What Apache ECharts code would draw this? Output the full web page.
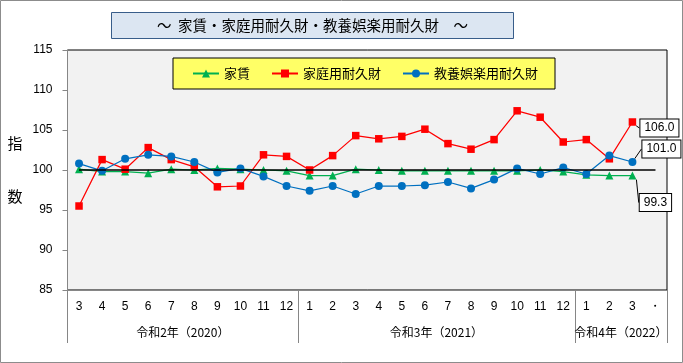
<!DOCTYPE html>
<html>
<head>
<meta charset="utf-8">
<script src="https://cdn.jsdelivr.net/npm/echarts@6/dist/echarts.min.js"></script>
<style>
html,body{margin:0;padding:0;background:#fff;}
#chart{width:683px;height:363px;}
</style>
</head>
<body>
<div id="chart"></div>
<script>
// ---- data ----
const categories = ['3','4','5','6','7','8','9','10','11','12','1','2','3','4','5','6','7','8','9','10','11','12','1','2','3','・'];
const yearLabels = ['令和2年（2020）','令和3年（2021）','令和4年（2022）'];
const yearCounts = [10, 12, 4];
const seriesNames = ['家賃','家庭用耐久財','教養娯楽用耐久財'];
const rent = [100.1, 99.8, 99.8, 99.6, 100.1, 100.0, 100.2, 100.1, 100.0, 99.9, 99.3, 99.3, 100.1, 100.0, 99.9, 99.9, 99.9, 99.9, 99.9, 99.9, 100.0, 99.8, 99.4, 99.3, 99.3];
const household = [95.5, 101.3, 100.1, 102.8, 101.3, 100.4, 97.9, 98.0, 101.9, 101.7, 100.0, 101.8, 104.3, 103.9, 104.2, 105.1, 103.3, 102.6, 103.8, 107.4, 106.6, 103.5, 103.8, 101.4, 106.0];
const culture = [100.8, 99.9, 101.4, 101.9, 101.7, 101.0, 99.7, 100.2, 99.2, 98.0, 97.4, 98.0, 97.0, 98.0, 98.0, 98.1, 98.5, 97.7, 98.8, 100.2, 99.5, 100.3, 99.5, 101.8, 101.0];
const yTicks = [85, 90, 95, 100, 105, 110, 115];
const baseValue = 100;

// ---- derived ----
const boundaries = [0];
yearCounts.forEach(c => boundaries.push(boundaries[boundaries.length - 1] + c));
const yearCenters = yearCounts.map((c, i) => boundaries[i] + c / 2);

const CJK = '"Noto Sans CJK JP", sans-serif';
const NUM = '"Liberation Sans", Arial, sans-serif';

function withLastLabel(arr) {
  return arr.map((v, i) => i === arr.length - 1 ? { value: v, label: { show: true } } : v);
}
const lastLabel = {
  show: false,
  position: 'inside',
  formatter: p => p.value.toFixed(1),
  fontFamily: NUM, fontSize: 12, color: '#000',
  backgroundColor: '#fff', borderColor: '#000', borderWidth: 1,
  padding: [3, 4, 2, 4]
};
const guide = { show: true, lineStyle: { color: '#000', width: 1 } };

const chart = echarts.init(document.getElementById('chart'), null, { renderer: 'canvas' });
chart.setOption({
  animation: false,
  backgroundColor: '#fff',
  title: {
    text: '～  家賃・家庭用耐久財・教養娯楽用耐久財　～',
    left: 111, top: 12,
    padding: [6, 46, 6, 46],
    backgroundColor: '#DCE6F2',
    borderColor: '#385D8A', borderWidth: 1,
    textStyle: { fontFamily: CJK, fontSize: 14.5, fontWeight: 'normal', color: '#000' }
  },
  legend: {
    left: 173, top: 58,
    padding: [9, 17, 9, 19],
    itemGap: 21, itemWidth: 26, itemHeight: 10,
    backgroundColor: '#FFFF66', borderColor: '#000', borderWidth: 1,
    textStyle: { fontFamily: CJK, fontSize: 13, color: '#000' },
    data: seriesNames
  },
  graphic: [{
    type: 'rect', silent: true, z: 100,
    shape: { x: 0.5, y: 0.5, width: 682, height: 362 },
    style: { fill: 'none', stroke: '#8c8c8c', lineWidth: 1 }
  }],
  grid: {
    left: 67.5, right: 16, top: 50, bottom: 73,
    show: true, backgroundColor: '#F2F2F2', borderColor: '#000', borderWidth: 1
  },
  xAxis: [{
    type: 'category', data: categories, boundaryGap: true,
    axisLine: { lineStyle: { color: '#868686', width: 1 } },
    axisTick: { interval: 0, length: 27, lineStyle: { color: '#868686' } },
    axisLabel: { interval: 0, margin: 11, fontFamily: NUM, fontSize: 12, color: '#000' }
  }, {
    type: 'value', min: 0, max: categories.length, position: 'bottom',
    axisLine: { show: false },
    splitLine: { show: false },
    axisTick: { show: true, customValues: boundaries, length: 53, lineStyle: { color: '#868686' } },
    axisLabel: {
      customValues: yearCenters, margin: 36,
      fontFamily: CJK, fontSize: 12, color: '#000',
      formatter: v => { const i = yearCenters.indexOf(v); return i >= 0 ? yearLabels[i] : ''; }
    }
  }],
  yAxis: {
    type: 'value', min: yTicks[0], max: yTicks[yTicks.length - 1], interval: 5,
    name: '指\n\n数', nameLocation: 'middle', nameRotate: 0, nameGap: 45,
    nameTextStyle: { fontFamily: CJK, fontSize: 15, lineHeight: 26.5, color: '#000', align: 'right' },
    axisLine: { show: true, lineStyle: { color: '#868686', width: 1 } },
    axisTick: { show: true, length: 5, lineStyle: { color: '#868686' } },
    splitLine: { show: false },
    axisLabel: { margin: 15, fontFamily: NUM, fontSize: 12, color: '#000' }
  },
  series: [{
    name: seriesNames[0], type: 'line', data: withLastLabel(rent),
    symbol: 'triangle', symbolSize: 8,
    itemStyle: { color: '#00B050' }, lineStyle: { color: '#00B050', width: 1.25 },
    label: lastLabel, labelLine: guide, labelLayout: { dx: 23, dy: 27 },
    markLine: {
      silent: true, symbol: 'none', label: { show: false },
      lineStyle: { color: '#000', width: 1.5, type: 'solid' },
      data: [[{ coord: [0, baseValue] }, { coord: [categories.length - 1, baseValue] }]]
    },
    z: 2
  }, {
    name: seriesNames[1], type: 'line', data: withLastLabel(household),
    symbol: 'rect', symbolSize: 7.5,
    itemStyle: { color: '#FF0000' }, lineStyle: { color: '#FF0000', width: 1.25 },
    label: lastLabel, labelLine: guide, labelLayout: { dx: 27, dy: 6 },
    z: 3
  }, {
    name: seriesNames[2], type: 'line', data: withLastLabel(culture),
    symbol: 'circle', symbolSize: 8,
    itemStyle: { color: '#0070C0' }, lineStyle: { color: '#0070C0', width: 1.25 },
    label: lastLabel, labelLine: guide, labelLayout: { dx: 29, dy: -13 },
    z: 4
  }]
});
</script>
</body>
</html>
